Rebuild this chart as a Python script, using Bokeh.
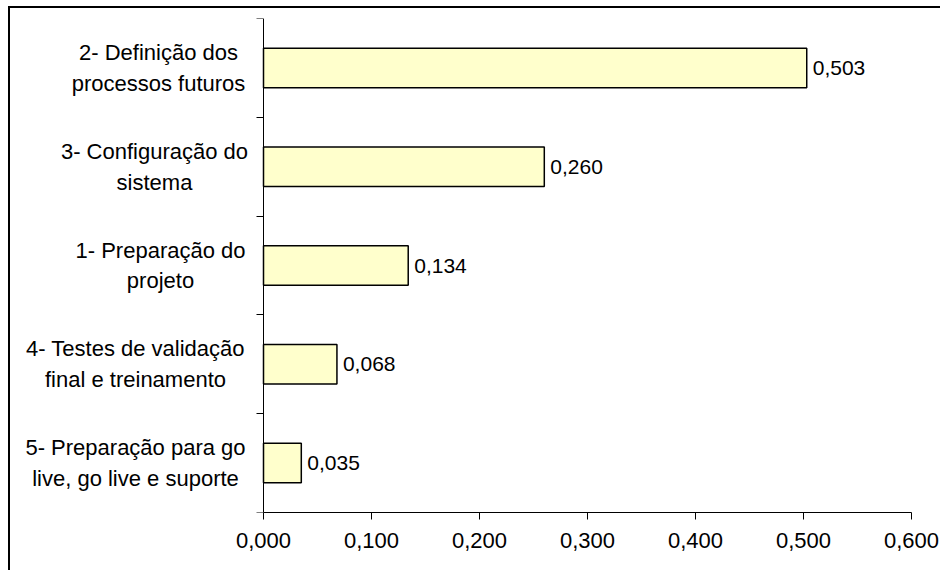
from bokeh.plotting import figure
from bokeh.models import Range1d, FixedTicker, CustomJSTickFormatter, ColumnDataSource
from bokeh.core.properties import value
from bokeh.embed import file_html
from bokeh.resources import INLINE

# Phases, top to bottom, with their weights
categories = [
    "2- Definição dos\nprocessos futuros",
    "3- Configuração do\nsistema",
    "1- Preparação do\nprojeto",
    "4- Testes de validação\nfinal e treinamento",
    "5- Preparação para go\nlive, go live e suporte",
]
weights = [0.503, 0.260, 0.134, 0.068, 0.035]
x_ticks = [0.0, 0.1, 0.2, 0.3, 0.4, 0.5, 0.6]

# horizontal offset (px, left of the value axis) of each centred category label block
label_offsets = [105, 109, 103, 128, 128]

FONT = "Liberation Sans"
FONT_SIZE = "22px"
VALUE_FONT_SIZE = "21px"

# plot frame geometry (px): frame starts left of the value axis so the
# category labels can be drawn as text inside it
FRAME_LEFT_PAD = 10
AXIS_INSET = 243           # distance from frame left edge to x = 0
PX_PER_UNIT = 1080.0

n = len(categories)
ypos = [n - 0.5 - i for i in range(n)]

src = ColumnDataSource(dict(
    y=ypos,
    w=weights,
    txt=[f"{v:.3f}".replace(".", ",") for v in weights],
))
cat_src = ColumnDataSource(dict(
    y=ypos,
    label=categories,
    off=[-o for o in label_offsets],
))

p = figure(
    width=932, height=564,
    x_range=Range1d(-AXIS_INSET / PX_PER_UNIT, x_ticks[-1]),
    y_range=Range1d(0, n),
    output_backend="svg", toolbar_location=None,
    min_border_left=FRAME_LEFT_PAD, min_border_right=31,
    min_border_top=10, min_border_bottom=60,
    background_fill_color="white", border_fill_color="white",
    outline_line_color=None,
    styles={
        "margin-left": "8px", "margin-top": "6px",
        "border-left": "2px solid black", "border-top": "2px solid black",
    },
)
p.xgrid.visible = False
p.ygrid.visible = False

p.hbar(y="y", left=0, right="w", height=0.4, source=src,
       fill_color="#FFFFCC", line_color="black", line_width=1.5)

# value labels at the end of each bar
p.text(x="w", y="y", text="txt", source=src, x_offset=6,
       text_font=value(FONT), text_font_size=VALUE_FONT_SIZE,
       text_baseline="middle", text_align="left", text_color="black")

# category labels, each block centred and placed left of the axis
p.text(x=0, y="y", text="label", source=cat_src, x_offset="off",
       text_font=value(FONT), text_font_size=FONT_SIZE,
       text_baseline="middle", text_align="center", text_color="black",
       text_line_height=1.23)

# x axis, drawn only over the value range
xa = p.xaxis[0]
xa.bounds = (x_ticks[0], x_ticks[-1])
xa.ticker = FixedTicker(ticks=x_ticks)
xa.formatter = CustomJSTickFormatter(code="return tick.toFixed(3).replace('.', ',');")
xa.minor_tick_line_color = None
xa.major_tick_in = 0
xa.major_tick_out = 7
xa.axis_line_color = "black"
xa.major_tick_line_color = "black"
xa.major_label_text_font = FONT
xa.major_label_text_font_size = FONT_SIZE
xa.major_label_text_color = "black"
xa.major_label_standoff = 13

# y axis at x = 0, ticks at category boundaries
ya = p.yaxis[0]
ya.fixed_location = 0
ya.ticker = FixedTicker(ticks=list(range(n + 1)))
ya.formatter = CustomJSTickFormatter(code="return '';")
ya.minor_tick_line_color = None
ya.major_tick_in = 0
ya.major_tick_out = 7
ya.major_label_standoff = 0
ya.axis_line_color = "black"
ya.major_tick_line_color = "black"

open("out.html", "w").write(file_html(p, INLINE))
